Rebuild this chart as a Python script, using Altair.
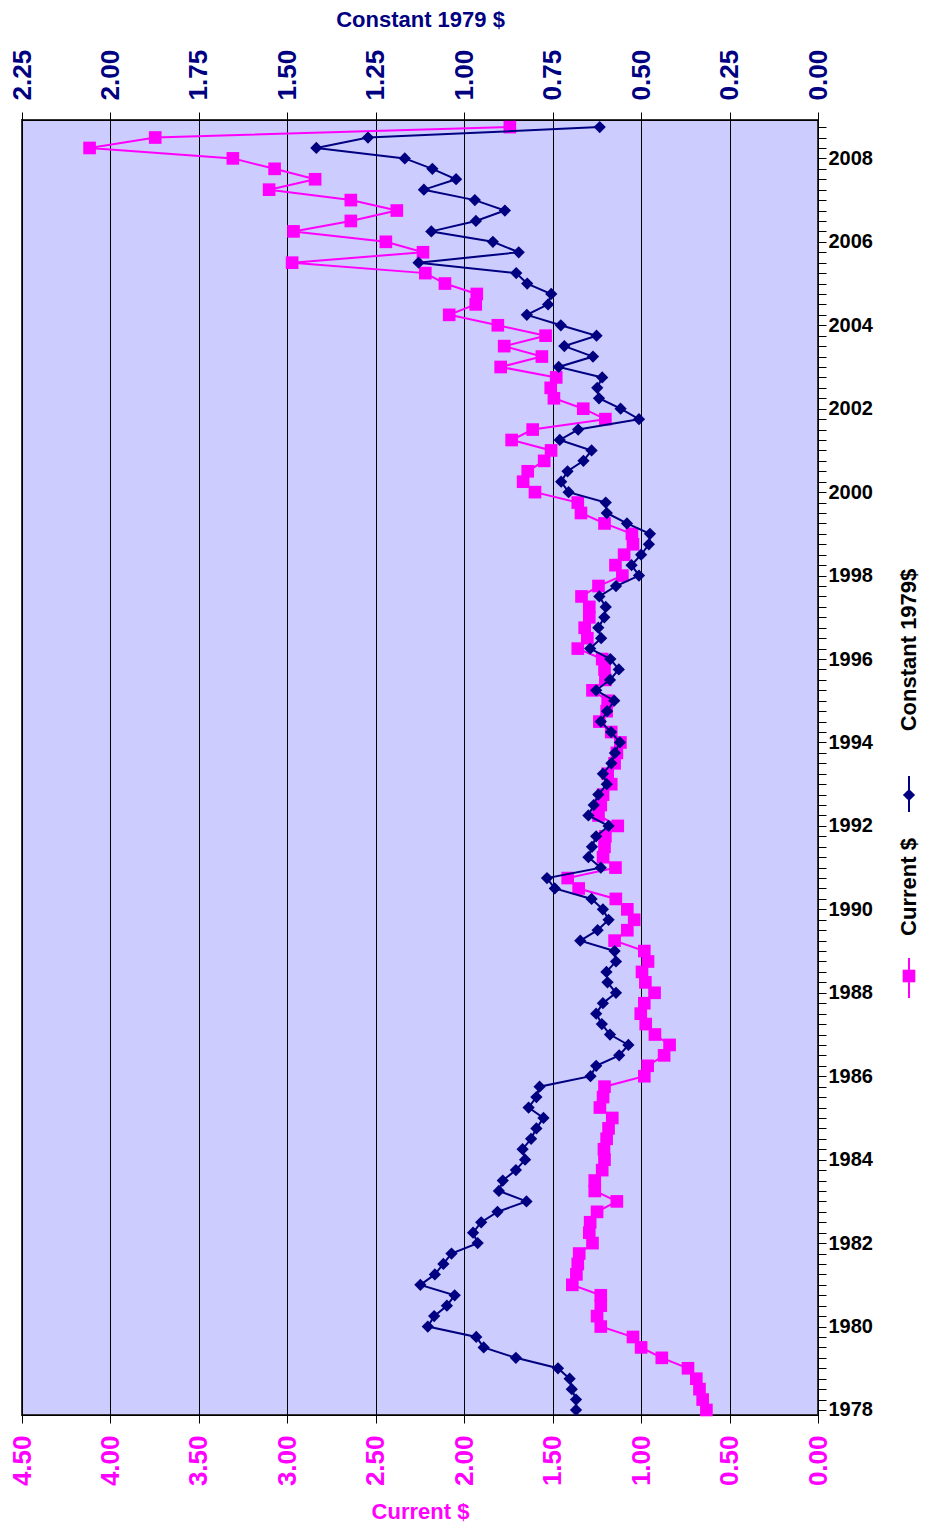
import altair as alt
import pandas as pd

# Quarterly series, listed newest first (2008 Q4 back to 1978 Q1)
current_newest_first = [
    1.742, 3.747, 4.118, 3.308, 3.072, 2.843, 3.103, 2.641, 2.381, 2.641,
    2.965, 2.443, 2.233, 2.973, 2.220, 2.109, 1.929, 1.935, 2.085, 1.810,
    1.540, 1.774, 1.561, 1.794, 1.480, 1.511, 1.493, 1.327, 1.202, 1.613,
    1.732, 1.509, 1.548, 1.641, 1.667, 1.600, 1.358, 1.340, 1.207, 1.052,
    1.046, 1.096, 1.145, 1.106, 1.241, 1.337, 1.293, 1.293, 1.319, 1.304,
    1.358, 1.220, 1.207, 1.202, 1.275, 1.189, 1.195, 1.236, 1.169, 1.117,
    1.137, 1.150, 1.189, 1.169, 1.215, 1.228, 1.241, 1.132, 1.202, 1.207,
    1.215, 1.145, 1.415, 1.353, 1.143, 1.078, 1.039, 1.078, 1.150, 0.982,
    0.961, 0.995, 0.976, 0.924, 0.982, 1.002, 0.974, 0.922, 0.839, 0.870,
    0.963, 0.982, 1.207, 1.215, 1.233, 1.163, 1.184, 1.195, 1.210, 1.207,
    1.220, 1.262, 1.262, 1.137, 1.249, 1.288, 1.293, 1.275, 1.350, 1.358,
    1.366, 1.389, 1.228, 1.228, 1.249, 1.228, 1.046, 1.000, 0.883, 0.735,
    0.688, 0.670, 0.652, 0.631,
]
constant_newest_first = [
    0.617, 1.272, 1.418, 1.168, 1.090, 1.023, 1.114, 0.970, 0.885, 0.967,
    1.093, 0.919, 0.846, 1.129, 0.853, 0.822, 0.754, 0.763, 0.823, 0.727,
    0.626, 0.717, 0.636, 0.733, 0.610, 0.624, 0.619, 0.558, 0.506, 0.678,
    0.730, 0.640, 0.663, 0.708, 0.726, 0.705, 0.600, 0.597, 0.540, 0.475,
    0.478, 0.500, 0.527, 0.506, 0.571, 0.618, 0.600, 0.604, 0.621, 0.613,
    0.644, 0.587, 0.563, 0.588, 0.627, 0.576, 0.596, 0.614, 0.585, 0.560,
    0.574, 0.584, 0.608, 0.597, 0.621, 0.634, 0.649, 0.592, 0.627, 0.639,
    0.649, 0.614, 0.766, 0.744, 0.640, 0.608, 0.592, 0.623, 0.672, 0.575,
    0.571, 0.598, 0.595, 0.571, 0.608, 0.627, 0.611, 0.588, 0.536, 0.562,
    0.627, 0.643, 0.787, 0.796, 0.818, 0.776, 0.796, 0.811, 0.835, 0.828,
    0.854, 0.891, 0.902, 0.824, 0.906, 0.952, 0.975, 0.962, 1.036, 1.059,
    1.083, 1.124, 1.027, 1.049, 1.085, 1.103, 0.966, 0.945, 0.854, 0.735,
    0.702, 0.696, 0.684, 0.684,
]
n = len(current_newest_first)
period = [2008.75 - 0.25 * i for i in range(n)]

current_ticks = [0, 0.5, 1.0, 1.5, 2.0, 2.5, 3.0, 3.5, 4.0, 4.5]
constant_ticks = [0, 0.25, 0.5, 0.75, 1.0, 1.25, 1.5, 1.75, 2.0, 2.25]
quarter_ticks = [1978 + 0.25 * i for i in range(124)]

df = pd.DataFrame({
    "period": period,
    "current": current_newest_first,
    "constant": constant_newest_first,
})

FONT = "Liberation Sans"
MAGENTA = "#FF00FF"
NAVY = "#000080"
W, H = 796, 1295

y_enc = alt.Y(
    "period:Q",
    scale=alt.Scale(domain=[1977.88, 2008.92], nice=False, zero=False),
    axis=alt.Axis(
        orient="right", values=quarter_ticks,
        labelExpr="datum.value % 2 == 0 ? format(datum.value, 'd') : ''",
        labelOverlap=False, labelFlush=False, labelFont=FONT, labelFontSize=20,
        labelFontWeight="bold", labelColor="black", tickColor="black",
        tickSize=8, domainColor="black", grid=False, title=None, labelPadding=2,
    ),
)

x_cur = alt.X(
    "current:Q",
    scale=alt.Scale(domain=[0, 4.5], reverse=True, nice=False, zero=False),
    axis=alt.Axis(
        orient="bottom", values=current_ticks, format=".2f", labelAngle=270,
        labelFont=FONT, labelFontSize=26, labelFontWeight="bold",
        labelColor=MAGENTA, labelFlush=False, labelOverlap=False,
        labelPadding=12, title="Current $", titleFont=FONT, titleFontSize=22,
        titleFontWeight="bold", titleColor=MAGENTA, titlePadding=16,
        grid=True, gridColor="black", gridWidth=1, tickSize=8,
        tickColor="black", domainColor="black",
    ),
)

x_con = alt.X(
    "constant:Q",
    scale=alt.Scale(domain=[0, 2.25], reverse=True, nice=False, zero=False),
    axis=alt.Axis(
        orient="top", values=constant_ticks, format=".2f", labelAngle=270,
        labelFont=FONT, labelFontSize=26, labelFontWeight="bold",
        labelColor=NAVY, labelFlush=False, labelOverlap=False,
        labelPadding=12, title="Constant 1979 $", titleFont=FONT,
        titleFontSize=22, titleFontWeight="bold", titleColor=NAVY,
        titlePadding=18, grid=False, tickSize=8, tickColor="black",
        domainColor="black",
    ),
)

base = alt.Chart(df)
order = alt.Order("period:Q")

cur = alt.layer(
    base.mark_line(color=MAGENTA, strokeWidth=2).encode(x=x_cur, y=y_enc, order=order),
    base.mark_point(shape="square", filled=True, size=160, color=MAGENTA, opacity=1)
        .encode(x=x_cur, y=y_enc),
)
con = alt.layer(
    base.mark_line(color=NAVY, strokeWidth=2).encode(x=x_con, y=y_enc, order=order),
    base.mark_point(shape="diamond", filled=True, size=150, color=NAVY, opacity=1)
        .encode(x=x_con, y=y_enc),
)

LX = 887
leg = alt.Chart(pd.DataFrame({"k": [0]}))
legend_layers = [
    leg.mark_rule(color=MAGENTA, strokeWidth=2).encode(
        x=alt.value(LX), y=alt.value(838), y2=alt.value(878)),
    leg.mark_point(shape="square", filled=True, size=160, color=MAGENTA, opacity=1).encode(
        x=alt.value(LX), y=alt.value(856)),
    leg.mark_text(text="Current $", angle=270, align="center", baseline="middle",
                  font=FONT, fontSize=22, fontWeight="bold", color="black").encode(
        x=alt.value(LX), y=alt.value(767)),
    leg.mark_rule(color=NAVY, strokeWidth=2).encode(
        x=alt.value(LX), y=alt.value(656), y2=alt.value(692)),
    leg.mark_point(shape="diamond", filled=True, size=150, color=NAVY, opacity=1).encode(
        x=alt.value(LX), y=alt.value(675)),
    leg.mark_text(text="Constant 1979$", angle=270, align="center", baseline="middle",
                  font=FONT, fontSize=22, fontWeight="bold", color="black").encode(
        x=alt.value(LX), y=alt.value(530)),
]

chart = (
    alt.layer(cur, con, *legend_layers)
    .resolve_scale(x="independent")
    .properties(
        width=W, height=H,
        autosize=alt.AutoSizeParams(type="none"),
        padding={"left": 14, "top": 112, "right": 104, "bottom": 112},
        background="white",
    )
    .configure_view(fill="#CCCCFF", stroke="#333333", strokeWidth=2)
)

chart.save("out.html", embed_options={"renderer": "svg", "actions": False})
